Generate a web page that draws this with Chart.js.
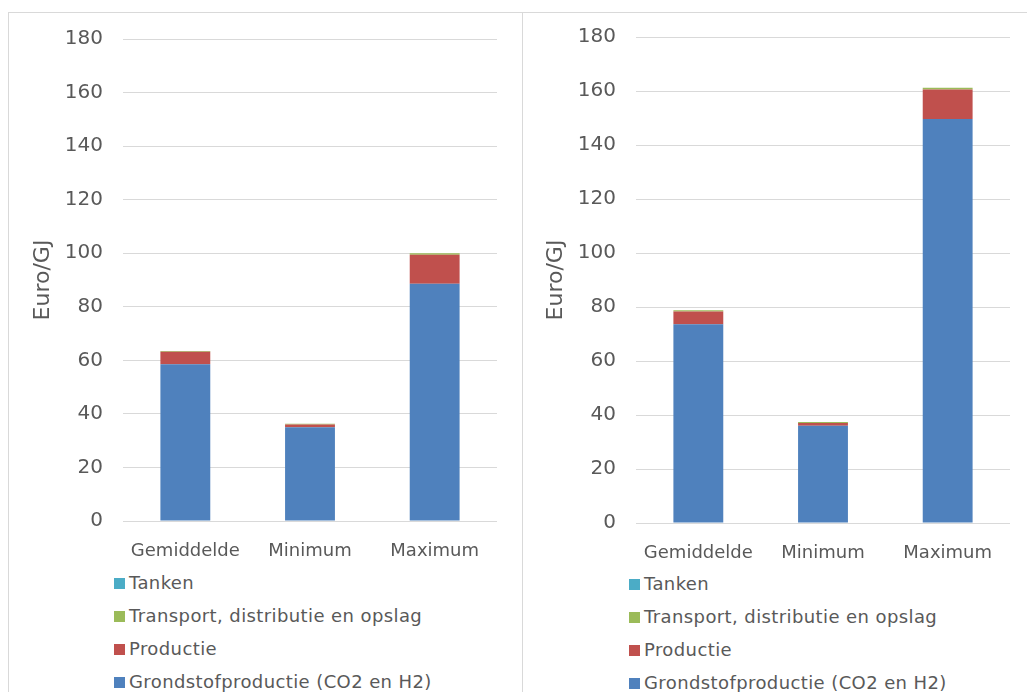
<!DOCTYPE html>
<html>
<head>
<meta charset="utf-8">
<script src="https://cdn.jsdelivr.net/npm/chart.js@4"></script>
<style>
  body { margin: 0; background: #fff; width: 1027px; height: 692px; overflow: hidden; position: relative; font-family: "DejaVu Sans", Verdana, sans-serif; }
  .wrap { position: absolute; top: 0; height: 560px; }
  .lijn { position: absolute; background: #d9d9d9; }
  .legenda { position: absolute; color: #595959; font-size: 18px; letter-spacing: 0.4px; }
  .item { position: absolute; left: 0; white-space: nowrap; height: 22px; line-height: 22px; }
  .item span.box { position: absolute; left: 0; top: 6px; width: 11px; height: 11px; }
  .item span.txt { position: absolute; left: 15px; top: 0; }
</style>
</head>
<body>
<div class="lijn" style="left:8px;top:12px;width:1019px;height:1px"></div>
<div class="lijn" style="left:8px;top:12px;width:1px;height:680px"></div>
<div class="lijn" style="left:522px;top:12px;width:1px;height:680px"></div>

<div class="wrap" style="left:0;width:520px"><canvas id="grafiekLinks"></canvas></div>
<div class="wrap" style="left:513px;width:514px"><canvas id="grafiekRechts"></canvas></div>

<div class="legenda" id="legendaLinks" style="left:114px;top:572px"></div>
<div class="legenda" id="legendaRechts" style="left:629px;top:573px"></div>

<script>
// categorieën en reeksen
const categorieen = ['Gemiddelde', 'Minimum', 'Maximum'];
const reeksNamen = ['Grondstofproductie (CO2 en H2)', 'Productie', 'Transport, distributie en opslag', 'Tanken'];
const kleuren = ['#4F81BD', '#C0504D', '#9BBB59', '#4BACC6'];

// linker grafiek
const grondstofLinks = [58.5, 35.0, 88.6];
const productieLinks = [4.7, 1.0, 10.8];
const transportLinks = [0.3, 0.3, 0.6];
const tankenLinks = [0, 0, 0];

// rechter grafiek
const grondstofRechts = [73.6, 36.0, 149.6];
const productieRechts = [4.7, 1.0, 11.0];
const transportRechts = [0.5, 0.4, 0.6];
const tankenRechts = [0, 0, 0];

const yMax = 180;
const yStap = 20;
const asTitel = 'Euro/GJ';

const tekstKleur = '#595959';
const rasterKleur = '#d9d9d9';

function maakDatasets(reeksen) {
  return reeksen.map((d, i) => ({
    label: reeksNamen[i],
    data: d,
    backgroundColor: kleuren[i],
    borderWidth: 0,
    stack: 's',
    barPercentage: 0.4,
    categoryPercentage: 1.0
  }));
}

function maakGrafiek(id, reeksen, pad) {
  const ctx = document.getElementById(id).getContext('2d');
  return new Chart(ctx, {
    type: 'bar',
    data: {
      labels: categorieen,
      datasets: maakDatasets(reeksen)
    },
    options: {
      responsive: true,
      maintainAspectRatio: false,
      animation: false,
      layout: { padding: { top: pad.top, right: pad.right, left: 0, bottom: 0 } },
      plugins: {
        legend: { display: false },
        tooltip: { enabled: false }
      },
      scales: {
        x: {
          stacked: true,
          grid: { display: false },
          border: { display: false },
          ticks: { color: tekstKleur, font: { family: 'DejaVu Sans', size: 18 }, padding: 12 },
          afterFit: s => { s.height = pad.xHoogte; }
        },
        y: {
          stacked: true,
          min: 0,
          max: yMax,
          ticks: { stepSize: yStap, color: tekstKleur, font: { family: 'DejaVu Sans', size: 20 }, padding: 20 },
          grid: { color: rasterKleur, lineWidth: 1, drawTicks: false },
          border: { display: false },
          title: {
            display: true,
            text: asTitel,
            color: tekstKleur,
            font: { family: 'DejaVu Sans', size: 22 },
            padding: { top: 30, bottom: 0 }
          },
          afterFit: s => { s.width = 123; }
        }
      }
    }
  });
}

function maakLegenda(id) {
  const div = document.getElementById(id);
  // volgorde zoals in het origineel: bovenste reeks eerst
  const volgorde = [3, 2, 1, 0];
  volgorde.forEach((r, i) => {
    div.innerHTML += `<div class="item" style="top:${i * 33}px"><span class="box" style="background:${kleuren[r]}"></span><span class="txt">${reeksNamen[r]}</span></div>`;
  });
}

maakGrafiek('grafiekLinks', [grondstofLinks, productieLinks, transportLinks, tankenLinks], { top: 39, right: 23, xHoogte: 39 });
maakGrafiek('grafiekRechts', [grondstofRechts, productieRechts, transportRechts, tankenRechts], { top: 37, right: 17, xHoogte: 37 });
maakLegenda('legendaLinks');
maakLegenda('legendaRechts');
</script>
</body>
</html>
